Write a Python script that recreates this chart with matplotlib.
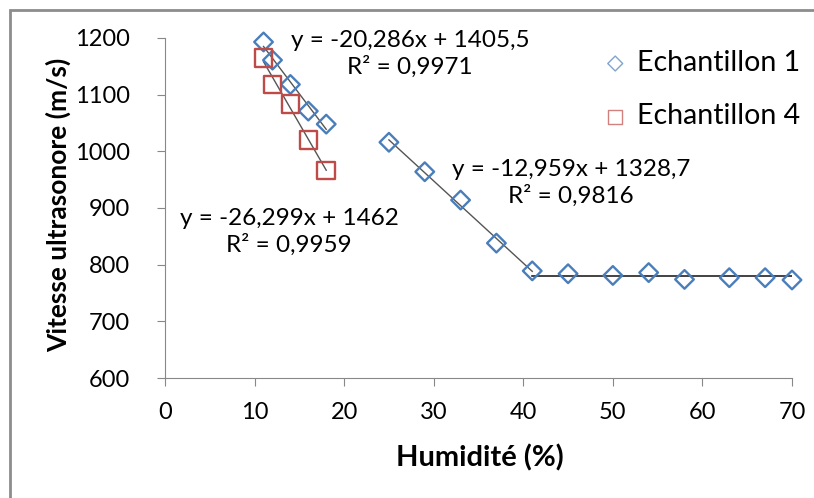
import matplotlib.pyplot as plt
import numpy as np
from matplotlib.patches import Rectangle

# Echantillon 1 : humidite (%) et vitesse (m/s)
hum_1 = [11, 12, 14, 16, 18, 25, 29, 33, 37, 41, 45, 50, 54, 58, 63, 67, 70]
vit_1 = [1193, 1161, 1118, 1071, 1048, 1016, 964, 914, 838, 789,
         784, 781, 786, 774, 777, 777, 773]

# Echantillon 4
hum_4 = [11, 12, 14, 16, 18]
vit_4 = [1165, 1118, 1084, 1020, 966]

# equations affichees
eq_labels = ["y = -20,286x + 1405,5\nR² = 0,9971",
             "y = -26,299x + 1462\nR² = 0,9959",
             "y = -12,959x + 1328,7\nR² = 0,9816"]

xticks = [0, 10, 20, 30, 40, 50, 60, 70]
yticks = [600, 700, 800, 900, 1000, 1100, 1200]

plt.rcParams["font.family"] = ["Lato", "DejaVu Sans"]

W, H = 814, 498
fig = plt.figure(figsize=(W / 100, H / 100), dpi=100)
ax = fig.add_axes([165 / W, 1 - 378 / H, 627 / W, 340 / H])

# position en pixels (origine en haut a gauche)
def fx(x):
    return x / W

def fy(y):
    return 1 - y / H

h1 = np.array(hum_1)
v1 = np.array(vit_1)
h4 = np.array(hum_4)
v4 = np.array(vit_4)

# lignes de tendance
def trend(x, y):
    p = np.polyfit(x, y, 1)
    xs = np.array([x.min(), x.max()])
    ax.plot(xs, np.polyval(p, xs), color="#555555", lw=1, zorder=1)

trend(h1[:5], v1[:5])
trend(h4, v4)
trend(h1[5:10], v1[5:10])
plat = h1[9:]
ax.plot([plat.min(), plat.max()], [v1[9:].mean()] * 2, color="#222222", lw=1.2, zorder=1)

ax.scatter(h1, v1, marker="D", s=90, facecolor="none", edgecolor="#4a7ebb",
           linewidths=1.7, zorder=3, label="Echantillon 1", clip_on=False)
ax.scatter(h4, v4, marker="s", s=160, facecolor="none", edgecolor="#be4b48",
           linewidths=1.7, zorder=3, label="Echantillon 4", clip_on=False)

for lab, (x, y) in zip(eq_labels, [(410, 54), (289, 232), (571, 183)]):
    fig.text(fx(x), fy(y), lab, ha="center", va="center", fontsize=17.5,
             linespacing=1.3)

ax.set_xlim(0, 70)
ax.set_ylim(600, 1200)
ax.set_xticks(xticks)
ax.set_yticks(yticks)
ax.tick_params(labelsize=17, length=6, color="#888888")
ax.tick_params(axis="y", pad=19)
ax.tick_params(axis="x", pad=11)
for s in ["top", "right"]:
    ax.spines[s].set_visible(False)
for s in ["left", "bottom"]:
    ax.spines[s].set_color("#888888")

fig.text(fx(480), fy(458), "Humidité (%)", fontsize=21, fontweight="bold",
         ha="center", va="center")
fig.text(fx(58), fy(205), "Vitesse ultrasonore (m/s)", fontsize=19,
         fontweight="bold", ha="center", va="center", rotation=90)

leg = fig.legend(loc="upper left", bbox_to_anchor=(fx(601), fy(50)), frameon=False,
                 fontsize=20.5, handlelength=1.0, handletextpad=0.25,
                 labelspacing=0.95, borderpad=0, borderaxespad=0, markerscale=0.8)
for hnd in leg.legend_handles:
    hnd.set_linewidth(1)
    hnd.set_alpha(0.7)

fig.patches.append(Rectangle((10 / W, -0.1), 1.2, 1 - 10 / H + 0.1,
                             transform=fig.transFigure, fill=False,
                             edgecolor="#8c8c8c", lw=2))

fig.savefig("out.png", dpi=100)
